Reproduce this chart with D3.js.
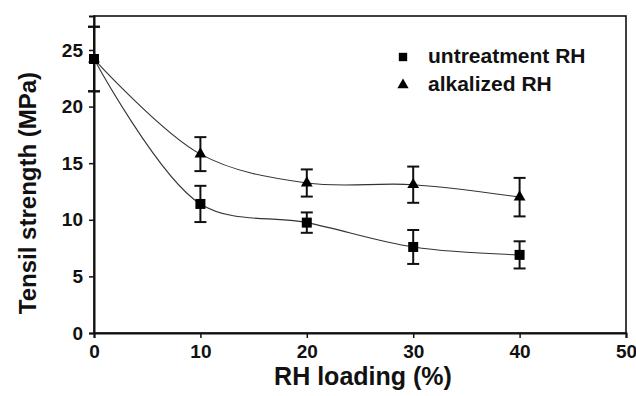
<!DOCTYPE html>
<html>
<head>
<meta charset="utf-8">
<script src="https://cdn.jsdelivr.net/npm/d3@7"></script>
<style>
  body { margin: 0; background: #fff; }
  text { font-family: "Liberation Sans", Arial, sans-serif; font-weight: bold; }
</style>
</head>
<body>
<div id="chart"></div>
<script>
// values
const loading = [0, 10, 20, 30, 40];
const untreated = [24.2, 11.4, 9.75, 7.6, 6.9];
const untreatedErr = [2.85, 1.6, 0.9, 1.5, 1.2];
const alkalized = [24.2, 15.8, 13.25, 13.1, 12.0];
const alkalizedErr = [2.85, 1.5, 1.2, 1.6, 1.7];
const xTicks = [0, 10, 20, 30, 40, 50];
const yTicks = [0, 5, 10, 15, 20, 25];

const width = 636, height = 396;
const margin = { top: 16, right: 10, bottom: 63, left: 94 };

const svg = d3.select("#chart").append("svg")
    .attr("width", width).attr("height", height);

const x = d3.scaleLinear().domain([0, 50]).range([margin.left, width - margin.right]);
const y = d3.scaleLinear().domain([0, 28]).range([height - margin.bottom, margin.top]);

// frame
svg.append("rect")
    .attr("x", x(0)).attr("y", y(28))
    .attr("width", x(50) - x(0)).attr("height", y(0) - y(28))
    .attr("fill", "none").attr("stroke", "#111").attr("stroke-width", 1.6);

const xAxis = svg.append("g")
    .attr("transform", `translate(0,${y(0)})`)
    .call(d3.axisBottom(x).tickValues(xTicks).tickSize(5).tickPadding(5).tickFormat(d3.format("d")));
const yAxis = svg.append("g")
    .attr("transform", `translate(${x(0)},0)`)
    .call(d3.axisLeft(y).tickValues(yTicks).tickSize(5).tickPadding(6).tickFormat(d3.format("d")));

[xAxis, yAxis].forEach(g => {
  g.select(".domain").attr("stroke", "#111").attr("stroke-width", 2);
  g.selectAll(".tick line").attr("stroke", "#111").attr("stroke-width", 1.5);
  g.selectAll(".tick text").attr("fill", "#111")
      .style("font-size", "19px").style("font-family", '"Liberation Sans", Arial, sans-serif').style("font-weight", "bold");
});
xAxis.selectAll(".tick text").attr("dy", "0.78em");

// axis titles
svg.append("text")
    .attr("x", 363).attr("y", 385)
    .attr("text-anchor", "middle")
    .style("font-size", "25px").attr("fill", "#111")
    .text("RH loading (%)");
svg.append("text")
    .attr("transform", "translate(36,193) rotate(-90)")
    .attr("text-anchor", "middle")
    .style("font-size", "24px").attr("fill", "#111")
    .text("Tensil strength (MPa)");

const series = [
  { name: "alkalized RH", values: alkalized, err: alkalizedErr, symbol: d3.symbolTriangle, size: 60 },
  { name: "untreatment RH", values: untreated, err: untreatedErr, symbol: d3.symbolSquare, size: 100 }
];

const line = d3.line()
    .x((d, i) => x(loading[i]))
    .y(d => y(d))
    .curve(d3.curveCatmullRom.alpha(0.5));

series.forEach(s => {
  svg.append("path")
      .datum(s.values)
      .attr("d", line)
      .attr("fill", "none")
      .attr("stroke", "#333")
      .attr("stroke-width", 1.1);

  const eb = svg.append("g");
  s.values.forEach((v, i) => {
    const cx = x(loading[i]);
    const top = y(v + s.err[i]), bot = y(v - s.err[i]);
    eb.append("line").attr("x1", cx).attr("x2", cx).attr("y1", top).attr("y2", bot);
    eb.append("line").attr("x1", cx - 6).attr("x2", cx + 6).attr("y1", top).attr("y2", top);
    eb.append("line").attr("x1", cx - 6).attr("x2", cx + 6).attr("y1", bot).attr("y2", bot);
  });
  eb.selectAll("line").attr("stroke", "#111").attr("stroke-width", 2);

  svg.append("g").selectAll("path")
      .data(s.values)
      .join("path")
      .attr("transform", (d, i) => `translate(${x(loading[i])},${y(d)})`)
      .attr("d", d3.symbol().type(s.symbol).size(s.size))
      .attr("fill", "#000");
});

// legend
const legend = [
  { name: "untreatment RH", symbol: d3.symbolSquare, size: 70 },
  { name: "alkalized RH", symbol: d3.symbolTriangle, size: 55 }
];
const lg = svg.append("g").selectAll("g")
    .data(legend)
    .join("g")
    .attr("transform", (d, i) => `translate(403,${57 + i * 28})`);
lg.append("path")
    .attr("d", d => d3.symbol().type(d.symbol).size(d.size)())
    .attr("fill", "#000");
lg.append("text")
    .attr("x", 25).attr("y", 6)
    .style("font-size", "21px").attr("fill", "#111")
    .text(d => d.name);
</script>
</body>
</html>
